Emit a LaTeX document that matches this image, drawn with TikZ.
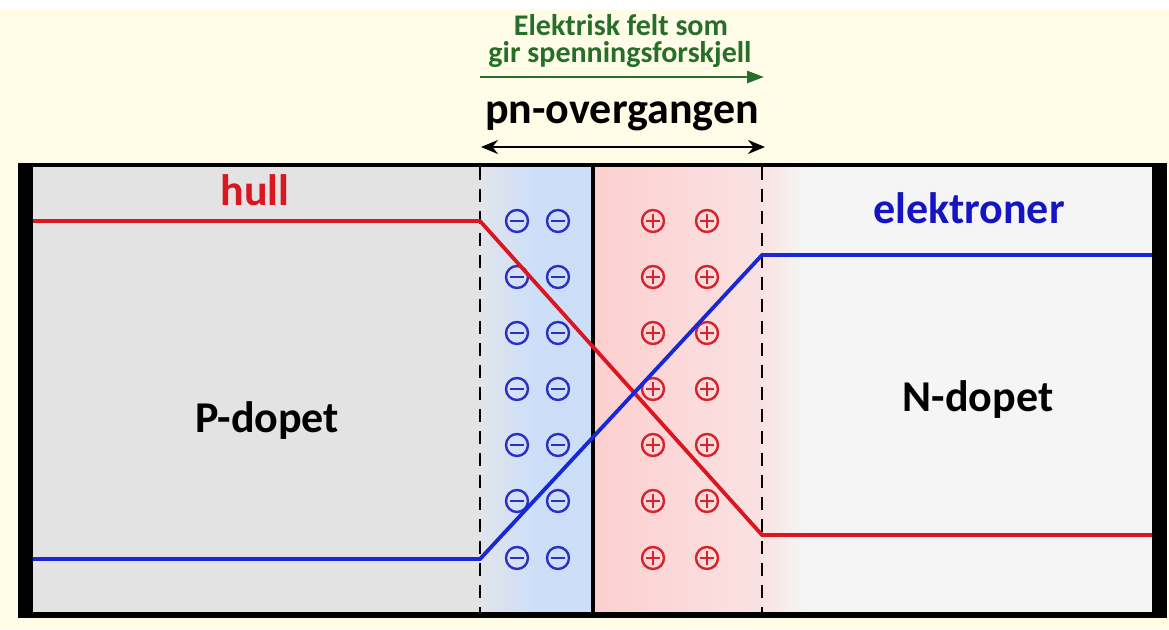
\documentclass[tikz,border=0pt]{standalone}
\usepackage{fontspec}
\setmainfont{Carlito}
\usetikzlibrary{arrows.meta}
\definecolor{cream}{RGB}{255,253,232}
\definecolor{pgray}{RGB}{227,227,227}
\definecolor{ngray}{RGB}{245,245,245}
\definecolor{bluezone}{RGB}{204,223,249}
\definecolor{bluestart}{RGB}{226,228,234}
\definecolor{pinkzone}{RGB}{253,207,207}
\definecolor{pinkmid}{RGB}{250,226,226}
\definecolor{hullred}{RGB}{218,22,32}
\definecolor{elblue}{RGB}{25,40,215}
\definecolor{txtblue}{RGB}{20,20,195}
\definecolor{fieldgreen}{RGB}{38,110,42}
\definecolor{minusblue}{RGB}{45,45,200}
\definecolor{plusred}{RGB}{215,35,45}
\tikzset{
  big/.style={font=\fontsize{44}{48}\selectfont\bfseries, inner sep=0pt, anchor=base},
  minussign/.style={circle, draw=minusblue, line width=2.4pt, minimum size=22pt, inner sep=0pt,
    path picture={\draw[minusblue, line width=2.4pt] ([xshift=-7pt]path picture bounding box.center) -- ([xshift=7pt]path picture bounding box.center);}},
  plussign/.style={circle, draw=plusred, line width=2.4pt, minimum size=22pt, inner sep=0pt,
    path picture={\draw[plusred, line width=2.4pt] ([xshift=-7pt]path picture bounding box.center) -- ([xshift=7pt]path picture bounding box.center)
      ([yshift=-7pt]path picture bounding box.center) -- ([yshift=7pt]path picture bounding box.center);}},
  boundary/.style={black, line width=2.6pt, dash pattern=on 13pt off 9pt},
  curve/.style={line width=3.8pt, line join=miter},
}
\begin{document}
\begin{tikzpicture}[x=1pt,y=-1pt]
\useasboundingbox (0,0) rectangle (1169,629);
\fill[white] (0,0) rectangle (1169,629);
\fill[cream] (0,9) rectangle (1169,629);
% regions
\fill[pgray] (33,166) rectangle (480,613);
\fill[ngray] (780,166) rectangle (1152,613);
\shade[left color=bluestart, right color=bluezone] (480,166) rectangle (535,613);
\fill[bluezone] (534,166) rectangle (593,613);
\shade[left color=pinkzone, right color=pinkmid] (593,166) rectangle (763,613);
\shade[left color=pinkmid, right color=ngray] (762,166) rectangle (805,613);
% frame
\fill[black] (18,163) rectangle (33,618);
\fill[black] (1152,163) rectangle (1167,618);
\fill[black] (18,163) rectangle (1167,167);
\fill[black] (18,612) rectangle (1167,618);
% boundaries
\coordinate (dl) at (480,167);
\coordinate (dlb) at (480,612);
\coordinate (dr) at (762,167);
\coordinate (drb) at (762,612);
\coordinate (mid) at (593,167);
\coordinate (midb) at (593,612);
\draw[boundary] (dl) -- (dlb);
\draw[boundary] (dr) -- (drb);
\draw[black, line width=3.8pt] (mid) -- (midb);
% charges
\foreach \r [count=\i] in {221,277,333,389,445,501,558}{
  \node[minussign] (m\i a) at (517,\r) {};
  \node[minussign] (m\i b) at (558,\r) {};
  \node[plussign] (p\i a) at (653,\r) {};
  \node[plussign] (p\i b) at (707,\r) {};
}
% curves
\coordinate (h0) at (33,221);
\coordinate (h1) at (480,221);
\coordinate (h2) at (762,535);
\coordinate (h3) at (1152,535);
\coordinate (e0) at (33,559);
\coordinate (e1) at (480,559);
\coordinate (e2) at (762,255);
\coordinate (e3) at (1152,255);
\draw[curve, hullred] (h0) -- (h1) -- (h2) -- (h3);
\draw[curve, elblue] (e0) -- (e1) -- (e2) -- (e3);
% labels
\node[big, hullred] (hull) at (255,205) {hull};
\node[big, txtblue] (elek) at (969,223) {elektroner};
\node[big] (pdop) at (267,432) {P-dopet};
\node[big] (ndop) at (978,411) {N-dopet};
\node[big] (pn) at (622,123) {pn-overgangen};
\node[font=\fontsize{30}{27}\selectfont\bfseries, text=fieldgreen, inner sep=0pt, anchor=base] (felt1) at (621,35) {Elektrisk felt som};
\node[font=\fontsize{30}{27}\selectfont\bfseries, text=fieldgreen, inner sep=0pt, anchor=base] (felt2) at (620,62) {gir spenningsforskjell};
% arrows
\coordinate (ga) at (480,77);
\coordinate (gb) at (764,77);
\draw[fieldgreen, line width=2.6pt, -{Triangle[length=17pt,width=12pt]}] (ga) -- (gb);
\coordinate (pa) at (481,147);
\coordinate (pb) at (765,147);
\draw[black, line width=2.4pt, {Stealth[length=17pt,width=14pt]}-{Stealth[length=17pt,width=14pt]}] (pa) -- (pb);
\end{tikzpicture}
\end{document}
